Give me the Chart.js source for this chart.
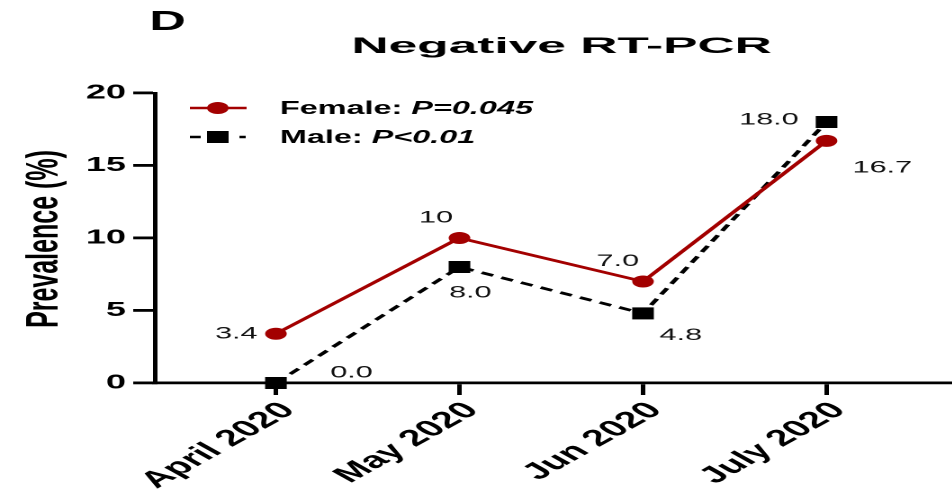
<!DOCTYPE html>
<html>
<head>
<meta charset="utf-8">
<script src="https://cdn.jsdelivr.net/npm/chart.js@4/dist/chart.umd.min.js"></script>
<style>
  html, body { margin: 0; padding: 0; background: #fff; overflow: hidden; }
  /* the source figure is stretched horizontally, so draw narrow and stretch */
  #wrap { width: 536px; height: 492px; transform: scaleX(1.8); transform-origin: 0 0; }
  canvas { display: block; }
</style>
</head>
<body>
<div id="wrap"><canvas id="chart" width="536" height="492"></canvas></div>
<script>
(function () {
  'use strict';

  // ── Data ─────────────────────────────────────────────────────────────────────
  const months      = ['April 2020', 'May 2020', 'Jun 2020', 'July 2020'];
  const femaleVals  = [3.4, 10, 7.0, 16.7];
  const maleVals    = [0.0, 8.0, 4.8, 18.0];
  const femaleText  = ['3.4', '10', '7.0', '16.7'];
  const maleText    = ['0.0', '8.0', '4.8', '18.0'];
  const yTicks      = [0, 5, 10, 15, 20];

  // label placement relative to each point (style only)
  const femaleOff = [[-22, 0], [-13, -20], [-14, -20], [31, 27]];
  const maleOff   = [[42, -10], [6, 26], [21, 22], [-32, -2]];

  const RED  = '#a30000';
  const FONT = '"Liberation Sans", Arial, sans-serif';

  const toPts = vals => vals.map((v, i) => ({ x: i, y: v }));

  // ── Overlay text: panel letter, title, y title, legend, value labels ────────
  const decor = {
    id: 'decor',
    afterDatasetsDraw(chart) {
      const ctx = chart.ctx;
      ctx.save();
      ctx.fillStyle = '#111';
      ctx.textBaseline = 'middle';
      ctx.textAlign = 'center';
      ctx.font = '17px ' + FONT;
      [[0, femaleText, femaleOff], [1, maleText, maleOff]].forEach(([di, txt, off]) => {
        chart.getDatasetMeta(di).data.forEach((pt, i) => {
          ctx.fillText(txt[i], pt.x + off[i][0], pt.y + off[i][1]);
        });
      });
      ctx.restore();
    },
    afterDraw(chart) {
      const ctx = chart.ctx;
      ctx.save();
      ctx.fillStyle = '#000';

      // panel letter
      ctx.textAlign = 'left';
      ctx.textBaseline = 'alphabetic';
      ctx.font = 'bold 28px ' + FONT;
      ctx.fillText('D', 83, 30);

      // title
      ctx.save();
      ctx.translate(312, 53);
      ctx.scale(1.3, 1);
      ctx.textAlign = 'center';
      ctx.font = 'bold 22px ' + FONT;
      ctx.fillText('Negative RT-PCR', 0, 0);
      ctx.restore();

      // y axis title
      ctx.save();
      ctx.translate(25, 239);
      ctx.rotate(-Math.PI / 2);
      ctx.textAlign = 'center';
      ctx.textBaseline = 'middle';
      ctx.font = 'bold 25px ' + FONT;
      ctx.fillText('Prevalence (%)', 0, 0);
      ctx.restore();

      // legend
      const lx0 = 105.5, lx1 = 137, mx = 121, tx = 155.5;
      const rows = [
        { y: 108, label: 'Female: ', p: 'P=0.045' },
        { y: 137, label: 'Male: ',   p: 'P<0.01' }
      ];
      // female
      ctx.strokeStyle = RED;
      ctx.fillStyle = RED;
      ctx.lineWidth = 2.5;
      ctx.beginPath(); ctx.moveTo(lx0, rows[0].y); ctx.lineTo(lx1, rows[0].y); ctx.stroke();
      ctx.beginPath(); ctx.arc(mx, rows[0].y, 6, 0, Math.PI * 2); ctx.fill();
      // male
      ctx.strokeStyle = '#000';
      ctx.fillStyle = '#000';
      ctx.beginPath();
      ctx.moveTo(lx0, rows[1].y); ctx.lineTo(111.5, rows[1].y);
      ctx.moveTo(133, rows[1].y); ctx.lineTo(136.5, rows[1].y);
      ctx.stroke();
      ctx.fillRect(mx - 6, rows[1].y - 6, 12, 12);

      ctx.textAlign = 'left';
      ctx.textBaseline = 'middle';
      rows.forEach(r => {
        ctx.font = 'bold 18px ' + FONT;
        ctx.fillText(r.label, tx, r.y + 1);
        const w = ctx.measureText(r.label).width;
        ctx.font = 'italic bold 18px ' + FONT;
        ctx.fillText(r.p, tx + w, r.y + 1);
      });
      ctx.restore();
    }
  };

  // ── Chart ────────────────────────────────────────────────────────────────────
  new Chart(document.getElementById('chart'), {
    type: 'line',
    data: {
      datasets: [
        {
          label: 'Female',
          data: toPts(femaleVals),
          borderColor: RED,
          backgroundColor: RED,
          borderWidth: 2.7,
          pointStyle: 'circle',
          pointRadius: 6,
          pointBorderWidth: 0,
          pointHoverRadius: 6,
          tension: 0,
          clip: false
        },
        {
          label: 'Male',
          data: toPts(maleVals),
          borderColor: '#000',
          backgroundColor: '#000',
          borderWidth: 2.7,
          borderDash: [7, 5],
          pointStyle: 'rect',
          pointRadius: 8.5,
          pointBorderWidth: 0,
          pointHoverRadius: 8.5,
          tension: 0,
          clip: false
        }
      ]
    },
    options: {
      responsive: false,
      animation: false,
      devicePixelRatio: 2,
      layout: { padding: { top: 93, left: 0, right: 0, bottom: 0 } },
      plugins: {
        legend: { display: false },
        title: { display: false },
        tooltip: { enabled: false }
      },
      scales: {
        x: {
          type: 'linear',
          min: -0.66,
          max: 3.67,
          afterBuildTicks: axis => { axis.ticks = months.map((_, i) => ({ value: i })); },
          afterFit: axis => {
            axis.height = 109;
            axis.paddingLeft = 0;
            axis.paddingRight = 0;
          },
          ticks: {
            autoSkip: false,
            minRotation: 45,
            maxRotation: 45,
            padding: 2,
            labelOffset: 7,
            color: '#000',
            font: { family: FONT, size: 23, weight: 'bold' },
            callback: v => months[v] || ''
          },
          grid: { drawOnChartArea: false, drawTicks: true, tickLength: 12, color: '#000', lineWidth: 2.5 },
          border: { display: true, color: '#000', width: 2.8 }
        },
        y: {
          min: 0,
          max: 20,
          afterBuildTicks: axis => { axis.ticks = yTicks.map(v => ({ value: v })); },
          afterFit: axis => { axis.width = 86; },
          ticks: {
            padding: 4,
            color: '#000',
            font: { family: FONT, size: 20, weight: 'bold' }
          },
          grid: { drawOnChartArea: false, drawTicks: true, tickLength: 12, color: '#000', lineWidth: 2.8 },
          border: { display: true, color: '#000', width: 2.5 }
        }
      }
    },
    plugins: [decor]
  });
})();
</script>
</body>
</html>
